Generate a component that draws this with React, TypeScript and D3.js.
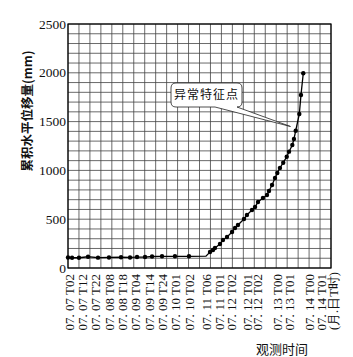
import * as d3 from 'd3';

// x positions are in grid-column units (24 columns across the plot)
const tickLabels = [
  '07. 07 T02', '07. 07 T12', '07. 07 T22', '07. 08 T08', '07. 08 T18',
  '07. 09 T04', '07. 09 T14', '07. 09 T24', '07. 10 T01', '07. 10 T02',
  '07. 11 T06', '07. 11 T01', '07. 12 T02', '07. 12 T01', '07. 12 T02',
  '07. 13 T00', '07. 13 T01', '07. 14 T00', '07. 14 T01',
];
const tickCols = [
  0.18, 1.37, 2.56, 3.83, 5.02, 6.2, 7.48, 8.67, 9.86, 11.13,
  12.68, 13.87, 14.97, 16.43, 17.34, 19.16, 20.26, 22.08, 23.18,
];
const unitLabel = '(月.日T时)';
const unitCol = 24.27;

const yTicks = [0, 500, 1000, 1500, 2000, 2500];

// stable stage
const flatCols = [0, 0.37, 1.0, 1.83, 2.74, 3.74, 4.84, 5.66, 6.3, 7.03, 7.67, 8.58, 9.76, 11.04];
const flatValues = [108, 105, 105, 115, 106, 108, 110, 108, 112, 112, 118, 120, 120, 120];

// start of acceleration (no marker)
const bendCol = 12.59;
const bendValue = 122;

// accelerating stage
const riseCols = [
  12.96, 13.23, 13.41, 13.87, 14.14, 14.51, 14.97, 15.24, 15.51, 16.06,
  16.33, 16.79, 17.07, 17.34, 17.79, 18.16, 18.34, 18.62, 18.89, 19.1,
  19.34, 19.64, 19.96, 20.17, 20.47, 20.62, 20.78, 21.11, 21.26, 21.47,
];
const riseValues = [
  164, 184, 205, 246, 287, 318, 369, 410, 441, 502,
  543, 594, 625, 676, 717, 748, 789, 850, 922, 973,
  1025, 1079, 1140, 1192, 1260, 1322, 1407, 1578, 1773, 1995,
];

// callout
const calloutText = '异常特征点';
const calloutTarget = { col: 20.3, value: 1450 };

const W = 353;
const H = 357;
const margin = { top: 24, right: 22, bottom: 89, left: 68 };
const serif = '"Liberation Serif", "DejaVu Serif", serif';
const cjk = '"Noto Sans CJK SC", sans-serif';

export default function App() {
  const x = d3.scaleLinear().domain([0, 24]).range([margin.left, W - margin.right]);
  const y = d3.scaleLinear().domain([0, 2500]).range([H - margin.bottom, margin.top]);

  const flat = flatCols.map((c, i) => ({ c, v: flatValues[i] }));
  const rise = riseCols.map((c, i) => ({ c, v: riseValues[i] }));
  const all = [...flat, { c: bendCol, v: bendValue }, ...rise];
  const line = d3.line<{ c: number; v: number }>().x(d => x(d.c)).y(d => y(d.v));

  const vGrid = d3.range(0, 25);
  const hGrid = d3.range(0, 2501, 100);

  // callout box geometry
  const bx0 = 171, bx1 = 242, by0 = 83, by1 = 107, r = 5;
  const tx = x(calloutTarget.col), ty = y(calloutTarget.value);
  const callout = `M${bx0 + r},${by0} H${bx1 - r} Q${bx1},${by0} ${bx1},${by0 + r} V${by1 - r} Q${bx1},${by1} ${bx1 - r},${by1}
    H${bx1 - 5} L${tx},${ty} L${bx0 + 44},${by1} H${bx0 + r} Q${bx0},${by1} ${bx0},${by1 - r} V${by0 + r} Q${bx0},${by0} ${bx0 + r},${by0} Z`;

  const bottom = H - margin.bottom;

  return (
    <svg width={W} height={H} style={{ position: 'absolute', left: 0, top: 0, background: '#fff' }}>
      {/* grid */}
      {vGrid.map(i => (
        <line key={'v' + i} x1={x(i)} x2={x(i)} y1={margin.top} y2={bottom} stroke="#444" strokeWidth={0.8} />
      ))}
      {hGrid.map(v => (
        <line key={'h' + v} x1={margin.left} x2={W - margin.right} y1={y(v)} y2={y(v)} stroke="#444" strokeWidth={0.8} />
      ))}
      <rect x={margin.left} y={margin.top} width={W - margin.left - margin.right} height={bottom - margin.top}
        fill="none" stroke="#000" strokeWidth={1.2} />

      {/* y tick labels */}
      {yTicks.map(v => (
        <text key={'yt' + v} x={margin.left - 2} y={y(v)} dy="0.34em" textAnchor="end"
          fontFamily={serif} fontSize={13.5} fill="#111">{v}</text>
      ))}

      {/* x tick labels */}
      {tickLabels.map((t, i) => (
        <text key={'xt' + i} transform={`translate(${x(tickCols[i])},${bottom + 6}) rotate(-90)`}
          dy="0.34em" textAnchor="end" fontFamily={serif} fontSize={13} fill="#111">{t}</text>
      ))}
      <text transform={`translate(${x(unitCol)},${bottom + 4}) rotate(-90)`} dy="0.34em" textAnchor="end"
        fontFamily={serif} fontSize={12.5} fill="#111">{unitLabel}</text>

      {/* axis titles */}
      <text transform={`translate(27,111) rotate(-90)`} dy="0.36em" textAnchor="middle"
        fontFamily={cjk} fontSize={12.5} fontWeight="bold" fill="#111">累积水平位移量(mm)</text>
      <text x={282} y={354} textAnchor="middle" fontFamily={cjk} fontSize={13} fill="#111">观测时间</text>

      {/* series */}
      <path d={line(all) ?? ''} fill="none" stroke="#000" strokeWidth={1.3} />
      {[...flat, ...rise].map((d, i) => (
        <circle key={'p' + i} cx={x(d.c)} cy={y(d.v)} r={2.2} fill="#000" />
      ))}

      {/* callout */}
      <path d={callout} fill="#fff" stroke="#222" strokeWidth={0.8} />
      <text x={(bx0 + bx1) / 2} y={(by0 + by1) / 2} dy="0.36em" textAnchor="middle" fontFamily={cjk}
        fontSize={12} letterSpacing={1} fill="#111">{calloutText}</text>
    </svg>
  );
}
